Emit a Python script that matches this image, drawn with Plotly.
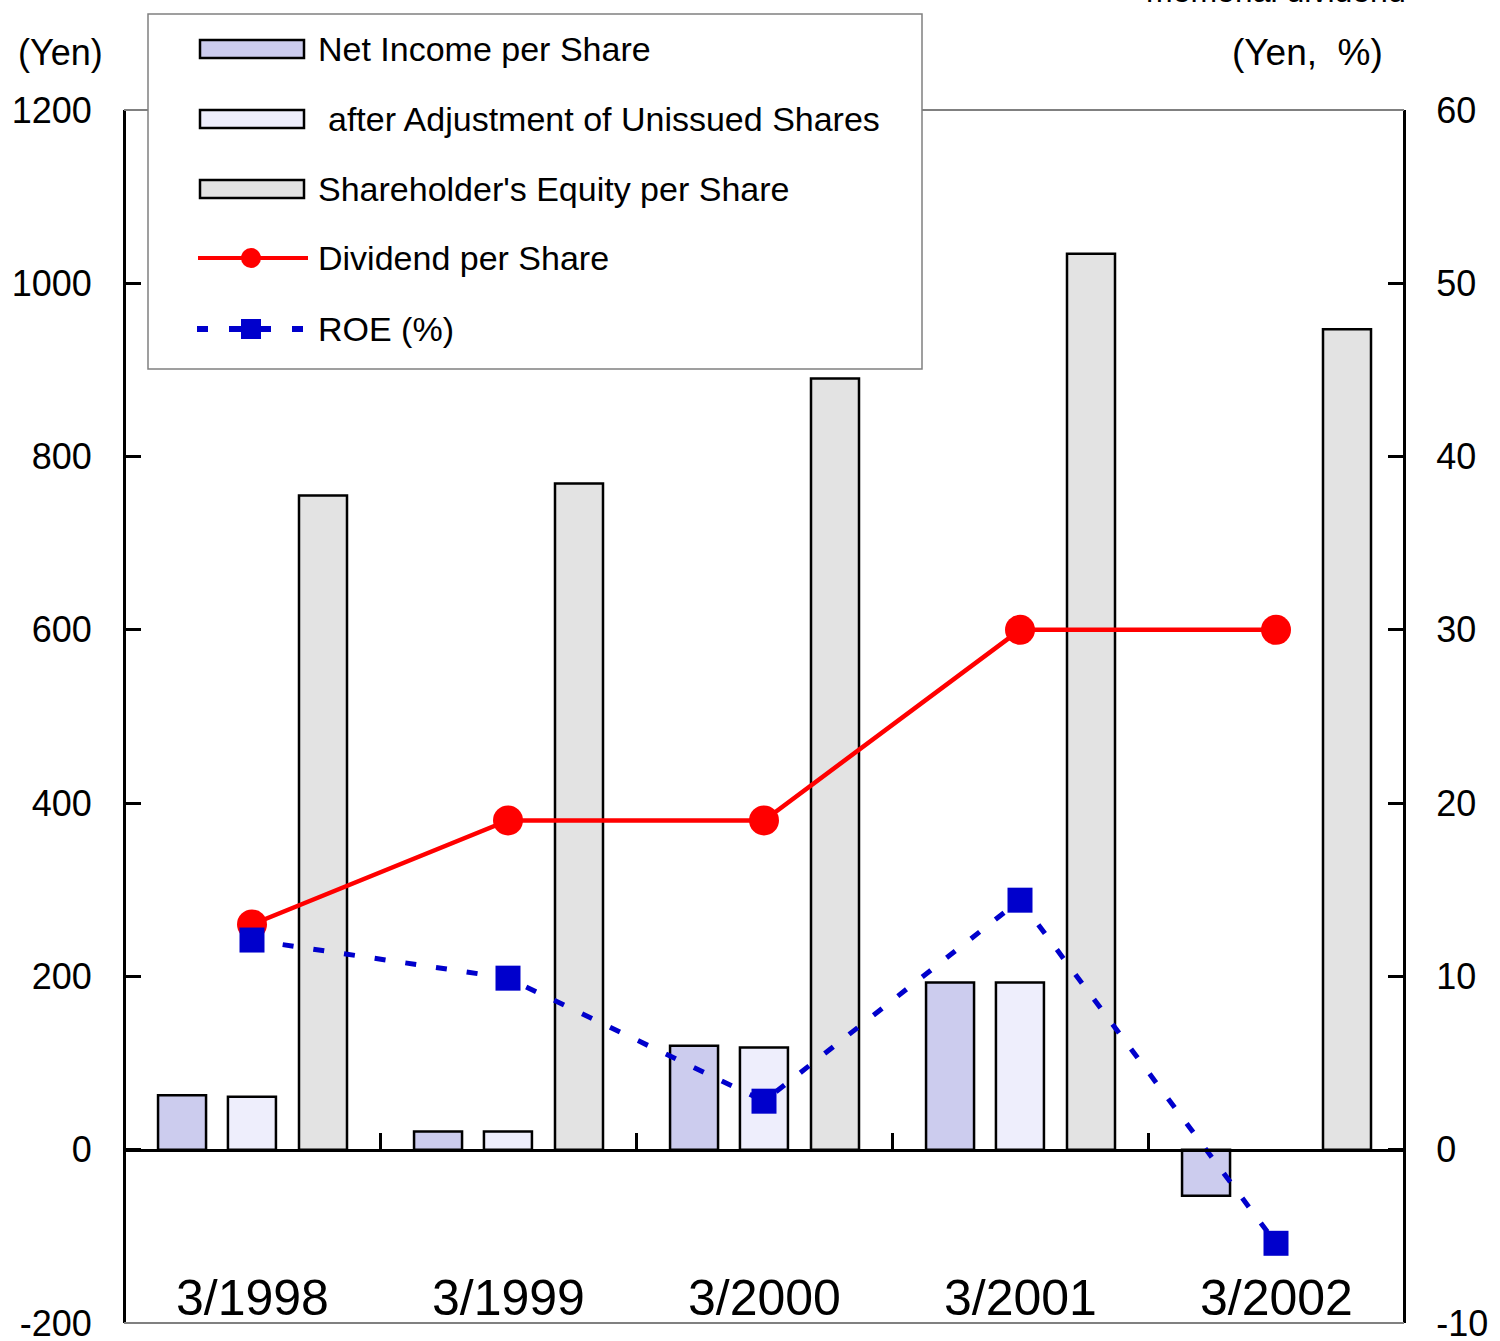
import plotly.graph_objects as go

# ---------------- data ----------------
categories = ["3/1998", "3/1999", "3/2000", "3/2001", "3/2002"]
net_income = [63, 21, 120, 193, -53]
net_income_adjusted = [61, 21, 118, 193, None]
equity = [755, 769, 890, 1034, 947]
dividend = [13, 19, 19, 30, 30]
roe = [12.1, 9.9, 2.8, 14.4, -5.4]

left_ticks = [-200, 0, 200, 400, 600, 800, 1000, 1200]
right_ticks = [-10, 0, 10, 20, 30, 40, 50, 60]

series_names = [
    "Net Income per Share",
    "after Adjustment of Unissued Shares",
    "Shareholder's Equity per Share",
    "Dividend per Share",
    "ROE (%)",
]

# ---------------- styling ----------------
FONT = "Liberation Sans, Arial, sans-serif"
C_NET = "#CCCCEE"
C_ADJ = "#EEEEFC"
C_EQ = "#E3E3E3"
C_DIV = "#FF0000"
C_ROE = "#0000CC"

W, H = 1500, 1341
L, R, T, B = 124, 1404, 110, 1323


def px(x):
    return (x - L) / (R - L)


def py(y):
    return (B - y) / (B - T)


fig = go.Figure()

bar_w = 0.1875
fig.add_trace(go.Bar(x=categories, y=net_income, name=series_names[0],
                     marker=dict(color=C_NET, line=dict(color="black", width=2.5)),
                     width=bar_w, offset=-0.367, showlegend=False))
fig.add_trace(go.Bar(x=categories, y=net_income_adjusted, name=series_names[1],
                     marker=dict(color=C_ADJ, line=dict(color="black", width=2.5)),
                     width=bar_w, offset=-0.094, showlegend=False))
fig.add_trace(go.Bar(x=categories, y=equity, name=series_names[2],
                     marker=dict(color=C_EQ, line=dict(color="black", width=2.5)),
                     width=bar_w, offset=0.1836, showlegend=False))
fig.add_trace(go.Scatter(x=categories, y=dividend, name=series_names[3], yaxis="y2",
                         mode="lines+markers",
                         line=dict(color=C_DIV, width=4.5),
                         marker=dict(symbol="circle", size=30, color=C_DIV),
                         showlegend=False))
fig.add_trace(go.Scatter(x=categories, y=roe, name=series_names[4], yaxis="y2",
                         mode="lines+markers",
                         line=dict(color=C_ROE, width=5, dash="11px,20px"),
                         marker=dict(symbol="square", size=25, color=C_ROE),
                         showlegend=False))

shapes = []
# top and bottom gray frame lines
shapes.append(dict(type="line", xref="paper", yref="paper", x0=0, x1=1, y0=1, y1=1,
                   line=dict(color="#808080", width=2)))
shapes.append(dict(type="line", xref="paper", yref="paper", x0=0, x1=1, y0=0, y1=0,
                   line=dict(color="#808080", width=2)))
# legend box
shapes.append(dict(type="rect", xref="paper", yref="paper",
                   x0=px(148), x1=px(922), y0=py(369), y1=py(14),
                   line=dict(color="#808080", width=1.5), fillcolor="white", layer="above"))
row_y = [49, 119, 189, 258, 329]
for yc, col in zip(row_y[:3], [C_NET, C_ADJ, C_EQ]):
    shapes.append(dict(type="rect", xref="paper", yref="paper",
                       x0=px(200), x1=px(304), y0=py(yc + 9), y1=py(yc - 9),
                       line=dict(color="black", width=2.5), fillcolor=col, layer="above"))
# dividend legend symbol
shapes.append(dict(type="line", xref="paper", yref="paper",
                   x0=px(198), x1=px(308), y0=py(row_y[3]), y1=py(row_y[3]),
                   line=dict(color=C_DIV, width=4), layer="above"))
shapes.append(dict(type="circle", xref="paper", yref="paper",
                   x0=px(241), x1=px(261), y0=py(row_y[3] + 10), y1=py(row_y[3] - 10),
                   line=dict(color=C_DIV, width=0), fillcolor=C_DIV, layer="above"))
# ROE legend symbol
for a, b in [(197, 208), (229, 271), (292, 303)]:
    shapes.append(dict(type="line", xref="paper", yref="paper",
                       x0=px(a), x1=px(b), y0=py(row_y[4]), y1=py(row_y[4]),
                       line=dict(color=C_ROE, width=6), layer="above"))
shapes.append(dict(type="rect", xref="paper", yref="paper",
                   x0=px(241), x1=px(261), y0=py(row_y[4] + 10), y1=py(row_y[4] - 10),
                   line=dict(color=C_ROE, width=0), fillcolor=C_ROE, layer="above"))

annotations = []
text_x = [316, 326, 316, 316, 316]
for name, yc, tx in zip(series_names, row_y, text_x):
    annotations.append(dict(text=name, xref="paper", yref="paper", x=px(tx), y=py(yc),
                            xanchor="left", yanchor="middle", showarrow=False,
                            font=dict(size=34, color="black", family=FONT)))
# category labels inside the plot
for c in categories:
    annotations.append(dict(text=c, xref="x", yref="y", x=c, y=-171,
                            xanchor="center", yanchor="middle", showarrow=False,
                            font=dict(size=50, color="black", family=FONT)))
# axis unit labels
annotations.append(dict(text="(Yen)", xref="paper", yref="paper", x=px(60), y=py(52),
                        xanchor="center", yanchor="middle", showarrow=False,
                        font=dict(size=36, color="black", family=FONT)))
annotations.append(dict(text="(Yen,\u00a0 %)", xref="paper", yref="paper", x=px(1307), y=py(52),
                        xanchor="center", yanchor="middle", showarrow=False,
                        font=dict(size=37, color="black", family=FONT)))
# cut-off note at the very top
annotations.append(dict(text="memorial dividend", xref="paper", yref="paper", x=px(1276), y=py(11),
                        xanchor="center", yanchor="bottom", showarrow=False,
                        font=dict(size=32, color="black", family=FONT)))

fig.update_layout(
    width=W, height=H,
    margin=dict(l=L, r=W - R, t=T, b=H - B, pad=0, autoexpand=False),
    paper_bgcolor="white", plot_bgcolor="white",
    barmode="overlay",
    font=dict(family=FONT, color="black"),
    shapes=shapes,
    annotations=annotations,
    xaxis=dict(type="category", range=[-0.5, 4.5], anchor="free", position=200 / 1400,
               showline=True, linecolor="black", linewidth=2.5,
               ticks="inside", tickson="boundaries", ticklen=16, tickwidth=2.5, tickcolor="black",
               showticklabels=False, showgrid=False, zeroline=False, automargin=False),
    yaxis=dict(range=[-200, 1200], tickvals=left_ticks, ticktext=[str(v) for v in left_ticks],
               anchor="free", position=0,
               showline=True, linecolor="black", linewidth=3,
               ticks="inside", ticklen=15, tickwidth=2.5, tickcolor="black",
               tickfont=dict(size=36, family=FONT, color="black"), ticklabelstandoff=24,
               ticklabeloverflow="allow", automargin=False,
               showgrid=False, zeroline=False),
    yaxis2=dict(range=[-10, 60], tickvals=right_ticks, ticktext=[str(v) for v in right_ticks],
                overlaying="y", side="right",
                anchor="free", position=1,
                showline=True, linecolor="black", linewidth=3,
                ticks="inside", ticklen=15, tickwidth=2.5, tickcolor="black",
                tickfont=dict(size=36, family=FONT, color="black"), ticklabelstandoff=23,
                ticklabeloverflow="allow", automargin=False,
                showgrid=False, zeroline=False),
)

fig.write_html("out.html", config={"displayModeBar": False},
               post_script="document.body.style.margin='0';document.body.style.overflow='hidden';")
